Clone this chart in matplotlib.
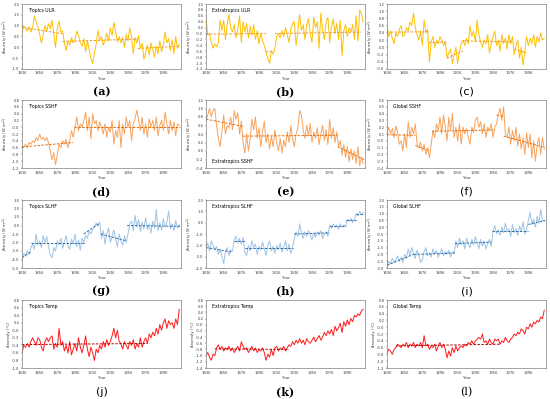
import matplotlib
matplotlib.use("Agg")
import matplotlib.pyplot as plt
import numpy as np

years = list(range(1836, 2016, 2))
xticks = [1836, 1856, 1876, 1896, 1916, 1936, 1956, 1976, 1996]

tropics_ulr = [0.65, 1.0, 0.85, 0.75, 0.95, 0.7, 0.9, 1.45, 1.2, 0.95,
               0.6, 0.2, 0.6, 1.0, 0.75, 1.1, 0.85, 1.25, 0.6, 0.0,
               0.9, 1.2, 0.7, 0.75, 0.2, -0.15, 0.3, 0.1, 0.45, 0.2,
               0.35, 0.75, 0.55, 0.25, 0.05, 0.4, -0.2, 0.3, -0.1, -0.5,
               -0.75, -0.25, 0.15, 0.8, 0.3, 0.5, 0.1, 0.35, 0.65, 0.3,
               0.9, 0.55, 1.15, 0.7, 0.25, 0.5, 0.2, 0.45, 0.0, 0.6,
               0.3, 0.9, 0.5, -0.3, 0.45, 0.2, 0.55, -0.05, 0.2, -0.55,
               -0.25, 0.1, -0.35, 0.2, -0.1, -0.45, 0.05, -0.3, 0.3, -0.2,
               0.1, 0.7, 0.2, 0.4, -0.15, 0.35, -0.3, 0.5, -0.05, 0.15]
extra_ulr = [0.5, -0.05, 0.0, -0.3, -0.5, -0.35, -0.45, -0.3, 0.45, 0.1,
             0.45, -0.2, 0.3, 0.65, 0.2, 0.05, 0.3, -0.15, 0.15, 0.6,
             -0.3, 0.4, 0.05, 0.35, -0.15, 0.25, -0.05, 0.3, -0.2, 0.1,
             -0.35, 0.0, -0.25, -0.4, -0.65, -0.85, -1.0, -0.6, -0.7, -0.5,
             -0.1, 0.0, -0.15, 0.1, -0.1, 0.2, -0.05, -0.3, 0.15, 0.35,
             0.4, -0.4, 0.1, 0.65, 0.1, 0.3, -0.2, 0.3, 0.5, 0.0,
             -0.3, 0.55, 0.2, 0.4, -0.5, 0.7, 0.1, -0.2, 0.4, 0.55,
             -0.3, 0.2, 0.5, 0.0, 0.35, -0.2, 0.45, -0.75, 0.1, 0.3,
             -0.1, 0.2, 0.05, 0.3, -0.2, 0.6, -0.25, 0.8, 0.65, 0.4]
global_ulr = [0.55, 0.3, 0.45, 0.25, 0.1, 0.4, 0.3, 0.5, 0.6, 0.3,
              0.35, 0.55, 0.45, 0.7, 0.6, 0.95, 0.55, 0.35, 0.2, 0.45,
              0.05, 0.75, 0.4, 0.5, -0.4, 0.15, 0.3, 0.0, 0.2, 0.1,
              0.3, 0.2, 0.05, 0.15, -0.3, -0.15, -0.05, -0.45, -0.2, 0.0,
              -0.45, -0.1, 0.1, 0.2, 0.05, 0.25, 0.1, 0.6, 0.3, 0.45,
              0.15, 0.75, 0.35, 0.15, 0.0, 0.2, 0.1, 0.35, -0.15, 0.1,
              0.3, 0.45, 0.05, 0.2, -0.1, 0.35, 0.1, 0.25, -0.05, 0.35,
              0.1, 0.3, -0.2, 0.05, 0.2, -0.3, 0.0, -0.5, -0.1, 0.3,
              0.05, 0.25, 0.1, 0.35, 0.0, 0.3, 0.15, 0.4, 0.2, 0.25]
tropics_sshf = [-0.55, -0.6, -0.5, -0.6, -0.45, -0.5, -0.4, -0.45, -0.3, -0.4,
                -0.2, -0.35, -0.3, -0.4, -0.3, -0.45, -0.7, -0.95, -0.75, -1.1,
                -0.8, -0.5, -0.6, -0.4, -0.5, -0.35, -0.6, -0.4, -0.1, -0.3,
                0.0, 0.3, -0.1, 0.1, 0.0, 0.2, 0.45, -0.1, 0.3, -0.35,
                0.4, 0.1, 0.2, -0.1, 0.15, 0.0, -0.2, 0.1, -0.3, 0.0,
                -0.15, 0.2, -0.5, -0.1, -0.3, 0.2, -0.6, 0.1, -0.2, 0.3,
                0.0, 0.2, -0.4, 0.1, 0.25, 0.5, 0.2, -0.1, 0.3, -0.2,
                0.1, -0.3, 0.25, 0.0, 0.2, -0.1, 0.3, -0.25, 0.05, 0.2,
                -0.1, 0.45, 0.1, -0.2, 0.2, -0.1, 0.15, -0.25, 0.1, 0.05]
extra_sshf = [0.7, 0.85, 1.0, 0.8, 0.95, 1.0, 0.6, 0.3, 0.1, 0.45,
              0.85, 0.4, 0.6, 0.55, 0.8, 0.5, 0.95, 0.75, 0.9, 0.4,
              0.7, 0.2, -0.05, 0.4, 0.0, 0.3, 0.75, 0.5, 0.8, 0.3,
              0.55, 0.1, 0.45, 0.7, 0.2, 0.4, 0.05, 0.35, 0.1, 0.5,
              0.2, 0.0, 0.3, -0.05, 0.25, 0.1, 0.45, 0.2, 0.6, 0.3,
              0.1, 0.4, 0.55, 0.95, 0.85, 0.5, 0.3, 0.6, 0.35, 0.65,
              0.2, 0.45, 0.3, 0.55, 0.15, 0.4, 0.6, 0.25, 0.5, 0.15,
              0.75, 0.3, 0.55, 0.2, 0.45, 0.1, 0.25, -0.1, 0.15, -0.15,
              0.1, -0.25, 0.05, -0.2, 0.0, -0.3, 0.1, -0.35, -0.15, -0.3]
global_sshf = [0.1, 0.2, 0.1, 0.18, 0.05, 0.22, 0.12, -0.05, 0.0, -0.15,
               0.1, -0.1, 0.28, 0.05, 0.2, 0.1, 0.25, -0.05, -0.1, -0.02,
               -0.15, -0.05, -0.2, -0.1, -0.25, -0.05, 0.15, 0.05, 0.25, 0.15,
               0.35, 0.1, 0.38, 0.2, 0.0, 0.35, 0.15, 0.4, 0.05, 0.2,
               0.0, 0.25, -0.05, 0.2, 0.1, 0.18, 0.05, -0.05, 0.2, 0.12,
               0.3, 0.35, 0.2, 0.28, 0.1, 0.25, 0.05, 0.2, 0.15, 0.25,
               0.05, 0.2, 0.25, 0.38, 0.48, 0.3, 0.5, 0.1, 0.05, 0.2,
               -0.05, 0.15, 0.0, 0.2, -0.08, 0.1, -0.12, 0.05, -0.2, 0.12,
               -0.1, 0.1, -0.25, 0.0, -0.3, -0.05, 0.05, -0.2, 0.05, -0.12]
tropics_slhf = [-4.0, -3.3, -3.6, -3.0, -3.4, -2.6, -2.2, -2.8, -1.0, -2.3,
                -1.8, -2.6, -1.2, -2.0, -1.3, -2.5, -3.5, -3.8, -2.6, -3.0,
                -1.8, -2.3, -1.5, -2.7, -1.9, -1.2, -2.4, -2.8, -1.6, -2.2,
                -1.0, -2.5, -1.7, -2.9, -1.5, -2.0, -1.2, -1.5, -0.7, -1.0,
                -0.5, -0.2, 0.3, -0.1, 0.4, -1.5, -0.6, -2.2, -1.0, -0.3,
                -2.0, -1.2, -0.5, -1.6, -2.5, -1.0, -1.8, -2.3, -1.2, -2.0,
                -1.0, 0.2, 0.5, -0.6, 1.2, -0.2, 0.7, -0.7, 0.4, -0.4,
                0.9, -0.5, 0.2, -0.9, 0.5, -0.3, 1.9, -0.6, 0.3, -0.5,
                0.8, -0.2, 0.4, 1.7, -0.4, 0.2, -0.6, 0.6, -0.3, 0.1]
extra_slhf = [-2.2, -1.8, -2.5, -1.6, -2.0, -2.4, -2.1, -2.8, -2.3, -3.0,
              -3.6, -2.6, -2.2, -2.9, -2.4, -2.5, -1.5, -1.2, -1.8, -1.4,
              -1.9, -1.3, -2.6, -2.9, -2.0, -2.5, -1.6, -2.2, -1.9, -2.8,
              -2.1, -2.4, -1.7, -2.3, -2.9, -2.0, -1.6, -2.5, -2.1, -2.7,
              -2.0, -2.4, -1.8, -2.6, -2.2, -1.6, -2.5, -1.9, -2.7, -2.2,
              -1.4, -0.8, -1.2, -0.1, -0.9, -1.4, -0.8, -1.2, -0.7, -1.1,
              -1.5, -0.9, -1.3, -0.8, -1.1, -0.7, -1.4, -1.0, -0.8, -1.2,
              -0.2, -0.5, -0.1, -0.4, -0.2, -0.6, -0.1, -0.4, -0.2, -0.3,
              0.3, 0.1, 0.4, 0.0, 0.3, 0.8, 0.6, 1.0, 0.7, 0.9]
global_slhf = [-2.9, -2.5, -2.7, -2.3, -2.6, -2.4, -2.1, -2.5, -2.2, -2.6,
               -2.0, -2.3, -1.6, -2.1, -1.5, -1.9, -2.3, -1.7, -2.0, -2.6,
               -2.4, -1.8, -1.5, -2.1, -1.9, -2.2, -1.6, -2.0, -1.7, -2.2,
               -1.9, -1.6, -2.1, -1.8, -2.0, -1.7, -2.2, -1.8, -1.9, -1.0,
               -1.5, -0.8, -1.3, -1.0, -1.6, -0.8, -1.2, -1.5, -0.9, -1.3,
               -0.7, -1.1, -1.6, -0.9, -1.4, -1.0, -1.6, -1.2, -0.9, -1.4,
               -0.3, 0.1, -0.5, -0.2, -0.6, 0.0, -0.4, 0.3, -0.3, -0.1,
               -0.7, 0.2, -0.4, -0.1, -0.6, 0.1, -0.3, 0.4, -0.5, -0.2,
               0.5, 1.1, 0.2, 0.6, 0.0, 0.8, 0.3, 1.3, 0.5, 0.4]
tropics_temp = [-0.6, -0.4, -0.45, -0.35, -0.45, -0.3, -0.2, -0.3, -0.4, -0.2,
                -0.25, -0.45, -0.55, -0.3, -0.2, -0.3, -0.2, -0.15, -0.5, -0.35,
                -0.45, 0.05, -0.4, -0.3, -0.55, -0.4, -0.6, -0.3, -0.65, -0.5,
                -0.35, -0.55, -0.2, -0.45, -0.6, -0.4, -0.15, -0.5, -0.7, -0.45,
                -0.6, -0.8, -0.5, -0.6, -0.4, -0.5, -0.3, -0.45, -0.25, -0.4,
                -0.3, -0.15, 0.05, -0.2, 0.0, -0.3, -0.35, -0.5, -0.3, -0.4,
                -0.5, -0.3, -0.4, -0.25, -0.5, -0.35, -0.45, -0.2, -0.45, -0.3,
                -0.2, -0.35, -0.1, -0.2, -0.05, -0.15, 0.05, -0.1, 0.15, 0.0,
                0.2, 0.3, 0.05, 0.25, 0.15, 0.2, 0.05, 0.3, 0.15, 0.55]
extra_temp = [-1.0, -0.9, -1.05, -1.15, -0.95, -1.0, -0.75, -0.65, -0.8, -0.7,
              -0.85, -0.75, -0.8, -0.7, -0.85, -0.75, -0.9, -0.8, -0.7, -0.85,
              -0.55, -0.7, -0.8, -0.75, -0.9, -0.8, -0.7, -0.85, -0.75, -0.9,
              -0.8, -0.85, -0.75, -0.9, -1.15, -0.95, -1.05, -0.8, -1.0, -0.75,
              -0.7, -0.85, -0.75, -0.8, -0.7, -0.85, -0.75, -0.65, -0.7, -0.55,
              -0.65, -0.5, -0.6, -0.45, -0.6, -0.5, -0.65, -0.45, -0.55, -0.6,
              -0.5, -0.4, -0.55, -0.45, -0.35, -0.5, -0.4, -0.25, -0.35, -0.2,
              -0.3, -0.15, -0.35, -0.05, -0.2, -0.1, 0.05, -0.25, 0.1, -0.05,
              0.15, 0.0, 0.2, 0.1, 0.3, 0.25, 0.35, 0.3, 0.45, 0.5]
global_temp = [-0.75, -0.65, -0.7, -0.8, -0.65, -0.6, -0.5, -0.55, -0.6, -0.5,
               -0.55, -0.45, -0.6, -0.5, -0.55, -0.45, -0.6, -0.5, -0.55, -0.45,
               -0.6, -0.25, -0.55, -0.5, -0.65, -0.55, -0.6, -0.5, -0.7, -0.55,
               -0.45, -0.6, -0.5, -0.65, -0.9, -0.7, -0.85, -0.6, -0.75, -0.55,
               -0.7, -0.6, -0.55, -0.6, -0.5, -0.55, -0.45, -0.5, -0.4, -0.5,
               -0.4, -0.35, -0.3, -0.35, -0.2, -0.45, -0.4, -0.5, -0.35, -0.45,
               -0.5, -0.35, -0.4, -0.35, -0.5, -0.4, -0.45, -0.3, -0.4, -0.45,
               -0.35, -0.3, -0.2, -0.25, -0.15, -0.2, -0.05, -0.1, -0.2, 0.0,
               -0.05, 0.1, 0.0, 0.15, 0.1, 0.2, 0.15, 0.3, 0.25, 0.5]

# trend segments: (start year, start value, end year, end value)
tropics_ulr_trend = [(1836, 0.92, 1882, 0.63), (1882, 0.27, 1967, 0.38), (1967, -0.05, 2015, 0.05)]
extra_ulr_trend = [(1836, -0.02, 1904, 0.0), (1904, -0.62, 1914, -0.58), (1914, 0.0, 2012, 0.05)]
global_ulr_trend = [(1836, 0.42, 1883, 0.43), (1883, 0.13, 1903, 0.15), (1904, -0.3, 1922, -0.1),
                    (1922, 0.18, 1980, 0.15), (1980, -0.05, 1994, -0.15)]
tropics_sshf_trend = [(1836, -0.58, 1894, -0.45), (1895, 0.0, 2015, 0.0)]
extra_sshf_trend = [(1836, 0.75, 1878, 0.58), (1878, 0.35, 1985, 0.37), (1985, 0.1, 2015, -0.2)]
global_sshf_trend = [(1836, 0.09, 1868, 0.08), (1868, -0.07, 1885, -0.15), (1887, 0.14, 1958, 0.16),
                     (1960, 0.38, 1967, 0.36), (1968, 0.07, 2015, -0.1)]
tropics_slhf_trend = [(1836, -3.8, 1846, -3.1), (1846, -2.0, 1906, -2.0), (1906, -1.0, 1924, 0.3),
                      (1925, -1.0, 1954, -1.8), (1955, 0.0, 2015, -0.1)]
extra_slhf_trend = [(1836, -2.2, 1866, -2.6), (1868, -1.6, 1880, -1.6), (1880, -2.2, 1935, -2.2),
                    (1936, -1.0, 1976, -0.9), (1976, -0.3, 1995, -0.3), (1995, 0.2, 2006, 0.2),
                    (2006, 0.8, 2015, 0.8)]
global_slhf_trend = [(1836, -2.8, 1866, -2.0), (1866, -2.0, 1913, -1.9), (1913, -1.2, 1954, -1.1),
                     (1955, -0.3, 1996, -0.3), (1996, 0.2, 2015, 0.5)]
tropics_temp_trend = [(1836, -0.38, 1978, -0.35)]
extra_temp_trend = [(1846, -0.78, 1930, -0.8)]
global_temp_trend = [(1846, -0.55, 1965, -0.5)]

titles = ["Tropics ULR", "Extratropics ULR", "", "Tropics SSHF", "Extratropics SSHF", "Global SSHF",
          "Tropics SLHF", "Extratropics SLHF", "Global SLHF", "Tropics Temp", "Extratropics Temp", "Global Temp"]
letters = ["(a)", "(b)", "(c)", "(d)", "(e)", "(f)", "(g)", "(h)", "(i)", "(j)", "(k)", "(l)"]
ylims = [(-1.0, 2.0, 0.5), (-1.2, 1.0, 0.2), (-0.6, 1.2, 0.2),
         (-1.2, 0.8, 0.2), (-0.4, 1.2, 0.2), (-0.4, 0.6, 0.1),
         (-5.0, 3.0, 1.0), (-4.0, 2.0, 1.0), (-3.0, 2.0, 0.5),
         (-1.0, 0.8, 0.2), (-1.4, 0.8, 0.2), (-1.2, 0.8, 0.2)]

series = [tropics_ulr, extra_ulr, global_ulr, tropics_sshf, extra_sshf, global_sshf,
          tropics_slhf, extra_slhf, global_slhf, tropics_temp, extra_temp, global_temp]
trends = [tropics_ulr_trend, extra_ulr_trend, global_ulr_trend, tropics_sshf_trend, extra_sshf_trend,
          global_sshf_trend, tropics_slhf_trend, extra_slhf_trend, global_slhf_trend,
          tropics_temp_trend, extra_temp_trend, global_temp_trend]

for s in series:
    assert len(s) == len(years), len(s)

row_colors = [("#FFC000", "#E99A3C"), ("#F7A35C", "#E46C0A"), ("#9DC3E6", "#2E6DA4"), ("#FF1A1A", "#B00000")]

W, H = 550, 399
fig = plt.figure(figsize=(W / 100, H / 100), dpi=100)
fig.patch.set_facecolor("white")

col_left = [22, 206, 387]
ax_w = 159
row_top = [4, 100, 200, 300]
ax_h = [65, 68, 68, 68]
letter_y = [92, 192, 291, 392]

letter_styles = {"(a)": ("serif", "bold"), "(b)": ("serif", "bold"), "(c)": ("sans-serif", "normal"),
                 "(d)": ("serif", "bold"), "(e)": ("serif", "bold"), "(f)": ("sans-serif", "normal"),
                 "(g)": ("serif", "bold"), "(h)": ("serif", "bold"), "(i)": ("sans-serif", "normal"),
                 "(j)": ("sans-serif", "normal"), "(k)": ("serif", "bold"), "(l)": ("serif", "normal")}

for i in range(12):
    r, c = divmod(i, 3)
    left = col_left[c]
    top = row_top[r]
    h = ax_h[r]
    ax = fig.add_axes([left / W, 1 - (top + h) / H, ax_w / W, h / H])
    lc, tc = row_colors[r]
    ax.plot(years, series[i], color=lc, lw=0.7)
    for (x0, y0, x1, y1) in trends[i]:
        ax.plot([x0, x1], [y0, y1], color=tc, lw=0.7, ls=(0, (2.5, 1.5)))
    ax.set_xlim(1836, 2016)
    lo, hi, st = ylims[i]
    ax.set_ylim(lo, hi)
    ticks = np.round(np.arange(lo, hi + st / 2, st), 2)
    ax.set_yticks(ticks)
    ax.set_yticklabels([f"{t:.1f}" for t in ticks])
    ax.set_xticks(xticks)
    ax.tick_params(labelsize=2.7, length=1, width=0.3, pad=0.8, colors="#404040")
    for sp in ax.spines.values():
        sp.set_color("#808080")
        sp.set_linewidth(0.5)
    ax.set_xlabel("Year", fontsize=3, labelpad=1.2, color="#404040")
    unit = "Anomaly (°C)" if r == 3 else "Anomaly (W m$^{-2}$)"
    ax.set_ylabel(unit, fontsize=2.7, labelpad=0.6, color="#404040")
    if titles[i]:
        if i == 4:
            ax.text(0.04, 0.1, titles[i], transform=ax.transAxes, fontsize=3.3, va="center", ha="left")
        else:
            ax.text(0.04, 0.9, titles[i], transform=ax.transAxes, fontsize=3.3, va="center", ha="left")
    fam, wt = letter_styles[letters[i]]
    fig.text((left + ax_w / 2) / W, 1 - letter_y[r] / H, letters[i], fontsize=8,
             family=fam, weight=wt, ha="center", va="center")

fig.savefig("out.png", dpi=100)
